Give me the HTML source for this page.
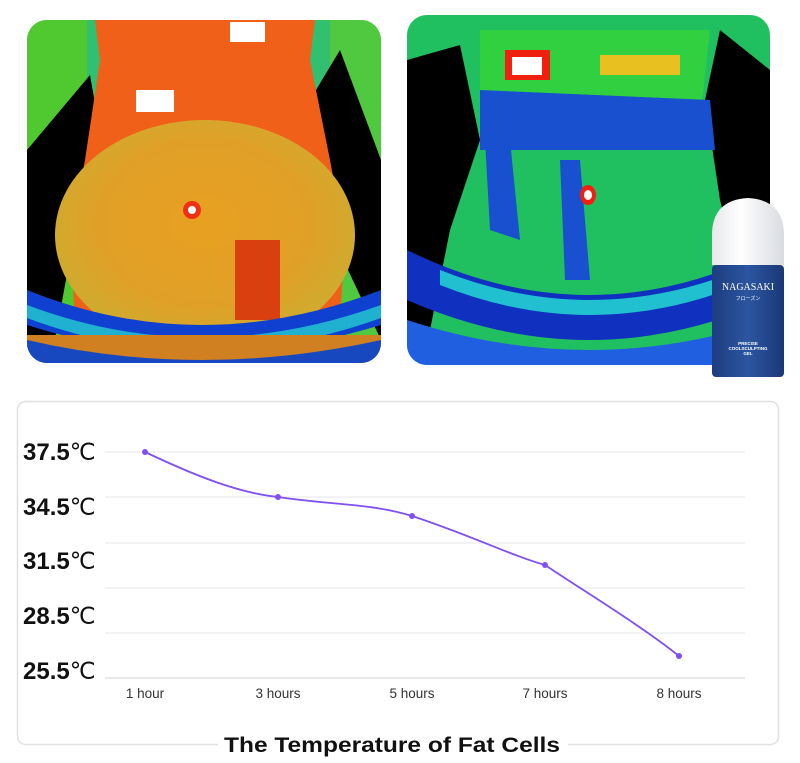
<!DOCTYPE html>
<html><head><meta charset="utf-8"><style>
html,body{margin:0;padding:0;background:#fff;}
body{width:800px;height:763px;overflow:hidden;position:relative;font-family:"Liberation Sans",sans-serif;}
</style></head><body>
<svg width="800" height="763" viewBox="0 0 800 763" xmlns="http://www.w3.org/2000/svg" style="position:absolute;left:0;top:0">
<defs>
<clipPath id="c1"><rect x="27" y="20" width="354" height="343" rx="20"/></clipPath>
<clipPath id="c2"><rect x="407" y="15" width="363" height="350" rx="20"/></clipPath>
<radialGradient id="g1" cx="0.5" cy="0.45" r="0.6"><stop offset="0" stop-color="#e8a020"/><stop offset="0.6" stop-color="#e0a028"/><stop offset="1" stop-color="#c8b030"/></radialGradient>
<linearGradient id="bottle" x1="0" x2="1"><stop offset="0" stop-color="#1d3d80"/><stop offset="0.5" stop-color="#2c55a0"/><stop offset="1" stop-color="#1a3878"/></linearGradient>
<linearGradient id="cap" x1="0" x2="1"><stop offset="0" stop-color="#e6e8ec"/><stop offset="0.4" stop-color="#ffffff"/><stop offset="1" stop-color="#d8dbe0"/></linearGradient>
</defs>
<g clip-path="url(#c1)">
<rect x="27" y="20" width="354" height="343" fill="#30c070"/>
<rect x="27" y="20" width="60" height="343" fill="#50c830"/>
<rect x="330" y="20" width="60" height="343" fill="#50c840"/>
<path d="M27 150 L90 75 L105 160 L75 230 L55 340 L27 340Z" fill="#000"/>
<path d="M381 160 L340 50 L310 100 L330 180 L348 270 L381 340Z" fill="#000"/>
<path d="M95 20 L315 20 L310 60 L330 160 L345 240 L340 320 L200 340 L75 320 L70 240 L85 160 L100 60Z" fill="#f06018"/>
<ellipse cx="205" cy="235" rx="150" ry="115" fill="url(#g1)"/>
<rect x="136" y="90" width="38" height="22" fill="#fff"/>
<rect x="230" y="22" width="35" height="20" fill="#fff"/>
<circle cx="192" cy="210" r="9" fill="#f03010"/><circle cx="192" cy="210" r="4" fill="#fff"/>
<rect x="235" y="240" width="45" height="80" fill="#d84010"/>
<path d="M27 290 Q200 360 381 290 L381 325 Q200 380 27 325Z" fill="#1040d0"/>
<path d="M27 305 Q200 370 381 305 L381 318 Q200 383 27 318Z" fill="#20b0d0"/>
<path d="M27 335 L381 335 L381 363 L27 363Z" fill="#d08020"/>
<path d="M27 340 Q200 380 381 340 L381 363 L27 363Z" fill="#1848c0"/>
</g>
<g clip-path="url(#c2)">
<rect x="407" y="15" width="363" height="350" fill="#20c060"/>
<path d="M407 60 L460 45 L480 140 L450 230 L430 330 L407 330Z" fill="#000"/>
<path d="M770 70 L720 30 L705 100 L720 200 L740 280 L770 300Z" fill="#000"/>
<path d="M480 30 L710 30 L700 120 L480 120Z" fill="#30d040"/>
<path d="M480 90 L710 100 L715 150 L480 150Z" fill="#1850d0"/>
<rect x="505" y="50" width="45" height="30" fill="#f02010"/><rect x="512" y="57" width="30" height="18" fill="#fff"/>
<rect x="600" y="55" width="80" height="20" fill="#e8c020"/>
<path d="M485 140 L510 140 L520 240 L490 230Z" fill="#1850d0"/>
<path d="M560 160 L580 160 L590 280 L565 280Z" fill="#1850d0"/>
<ellipse cx="588" cy="195" rx="8" ry="10" fill="#f02010"/><ellipse cx="588" cy="195" rx="4" ry="5" fill="#fff"/>
<path d="M407 250 Q590 340 770 250 L770 300 Q590 380 407 300Z" fill="#1030c0"/>
<path d="M440 270 Q590 330 740 270 L740 285 Q590 345 440 285Z" fill="#20c0d0"/>
<path d="M407 320 Q590 380 770 320 L770 365 L407 365Z" fill="#2060e0"/>
</g>
<path d="M712 265 L712 235 Q712 200 748 198 Q784 200 784 235 L784 265Z" fill="url(#cap)"/>
<rect x="712" y="265" width="72" height="112" rx="4" fill="url(#bottle)"/>
<text x="748" y="290" font-size="10" fill="#fff" text-anchor="middle" font-family="Liberation Serif,serif">NAGASAKI</text>
<text x="748" y="300" font-size="5" fill="#fff" text-anchor="middle" font-family="Noto Sans CJK JP,sans-serif">フローズン</text>
<text x="748" y="345" font-size="4.5" fill="#fff" text-anchor="middle" font-weight="bold">PRECISE</text>
<text x="748" y="350" font-size="4.5" fill="#fff" text-anchor="middle" font-weight="bold">COOLSCULPTING</text>
<text x="748" y="355" font-size="4.5" fill="#fff" text-anchor="middle" font-weight="bold">GEL</text>
<rect x="17.5" y="401.5" width="761" height="343" rx="8" fill="#fff" stroke="#e0e0e0" stroke-width="1.5"/>
<g stroke="#ececec" stroke-width="1.2">
<line x1="105" y1="452" x2="745" y2="452"/><line x1="105" y1="497" x2="745" y2="497"/>
<line x1="105" y1="543" x2="745" y2="543"/><line x1="105" y1="588" x2="745" y2="588"/>
<line x1="105" y1="633" x2="745" y2="633"/><line x1="105" y1="678" x2="745" y2="678" stroke="#dcdcdc"/>
</g>
<g font-size="24" font-weight="bold" fill="#111">
<text x="23" y="460">37.5<tspan font-weight="normal" font-size="23">℃</tspan></text>
<text x="23" y="515">34.5<tspan font-weight="normal" font-size="23">℃</tspan></text>
<text x="23" y="569">31.5<tspan font-weight="normal" font-size="23">℃</tspan></text>
<text x="23" y="624">28.5<tspan font-weight="normal" font-size="23">℃</tspan></text>
<text x="23" y="679">25.5<tspan font-weight="normal" font-size="23">℃</tspan></text>
</g>
<path d="M145 452 C200 478 240 493 278 497 C330 505 370 503 412 516 C470 535 510 555 545 565 C590 595 640 625 679 656" fill="none" stroke="#8050f0" stroke-width="1.8"/>
<g fill="#8050f0"><circle cx="145" cy="452" r="3"/><circle cx="278" cy="497" r="3"/><circle cx="412" cy="516" r="3"/><circle cx="545" cy="565" r="3"/><circle cx="679" cy="656" r="3"/></g>
<g font-size="13.5" fill="#333" text-anchor="middle">
<text x="145" y="698">1 hour</text><text x="278" y="698">3 hours</text><text x="412" y="698">5 hours</text><text x="545" y="698">7 hours</text><text x="679" y="698">8 hours</text>
</g>
<rect x="218" y="735" width="350" height="22" fill="#fff"/>
<text x="224" y="752" font-size="21" font-weight="bold" fill="#111" textLength="336" lengthAdjust="spacingAndGlyphs">The Temperature of Fat Cells</text>
</svg>
</body></html>
